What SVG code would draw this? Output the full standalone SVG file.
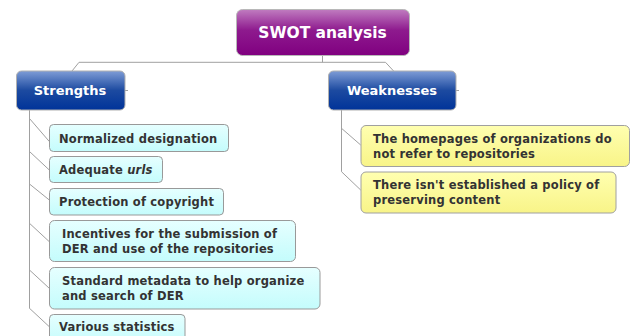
<svg xmlns="http://www.w3.org/2000/svg" width="630" height="336" viewBox="0 0 630 336">
<defs>
<linearGradient id="gRoot" x1="0" y1="0" x2="0" y2="1">
<stop offset="0" stop-color="#c07cc0"/><stop offset="0.45" stop-color="#8e1a8e"/><stop offset="1" stop-color="#800080"/>
</linearGradient>
<linearGradient id="gBlue" x1="0" y1="0" x2="0" y2="1">
<stop offset="0" stop-color="#7e9cd6"/><stop offset="0.5" stop-color="#1c4aa0"/><stop offset="1" stop-color="#003399"/>
</linearGradient>
<linearGradient id="gCyan" x1="0" y1="0" x2="0" y2="1">
<stop offset="0" stop-color="#e6ffff"/><stop offset="1" stop-color="#c4fcfc"/>
</linearGradient>
<linearGradient id="gYel" x1="0" y1="0" x2="0" y2="1">
<stop offset="0" stop-color="#ffffb0"/><stop offset="1" stop-color="#f8f488"/>
</linearGradient>
</defs>
<style>
.root{fill:url(#gRoot);stroke:#b8b8b8;stroke-width:1}
.main{fill:url(#gBlue);stroke:#b0b0b0;stroke-width:1}
.cyan{fill:url(#gCyan);stroke:#999;stroke-width:1}
.yel{fill:url(#gYel);stroke:#a0a0a0;stroke-width:1}
.tw{font-family:"DejaVu Sans",Verdana,sans-serif;font-weight:bold;fill:#fff}
.tc{font-family:"DejaVu Sans",Verdana,sans-serif;font-weight:bold;fill:#333;font-size:11.5px;letter-spacing:0.2px}
.ln{fill:none;stroke:#a0a0a0;stroke-width:1}
</style>
<g id="connectors">
<path class="ln" d="M322.5 55 V62.3 M79 62.3 H385.5 M79 62.3 L72 71 M385.5 62.3 L393.6 71"/>
<path class="ln" d="M125 90.5 H128 M456 90.5 H459"/>
<path class="ln" d="M29.5 110 V308.5"/>
<path class="ln" d="M29.5 118.5 L49.3 141.5 M29.5 151.5 L49.3 170 M29.5 184 L49.3 200 M29.5 223.3 L49.3 241.7 M29.5 270 L49.3 288.3 M29.5 308.3 L49.3 326.7"/>
<path class="ln" d="M341.5 110 V171.7 M341.5 128.3 L360.7 145 M341.5 171.7 L360.7 190"/>
</g>
<g id="root">
<rect class="root" x="236.5" y="9.5" width="173" height="46" rx="6"/>
<text class="tw" x="322.5" y="38" text-anchor="middle" font-size="15.5">SWOT analysis</text>
</g>
<g id="strengths">
<rect class="main" x="16.5" y="71" width="108.5" height="39" rx="5"/>
<text class="tw" x="70" y="95" text-anchor="middle" font-size="13">Strengths</text>
</g>
<g id="weaknesses">
<rect class="main" x="328.5" y="71" width="127.5" height="39" rx="5"/>
<text class="tw" x="392" y="95" text-anchor="middle" font-size="13">Weaknesses</text>
</g>
<g id="s1">
<rect class="cyan" x="49.5" y="124.5" width="179" height="27" rx="4"/>
<text class="tc" x="59" y="142.5">Normalized designation</text>
</g>
<g id="s2">
<rect class="cyan" x="49.5" y="156.5" width="113" height="26" rx="4"/>
<text class="tc" x="59" y="174">Adequate <tspan font-style="italic">urls</tspan></text>
</g>
<g id="s3">
<rect class="cyan" x="49.5" y="188.5" width="174" height="26.5" rx="4"/>
<text class="tc" x="59" y="206">Protection of copyright</text>
</g>
<g id="s4">
<rect class="cyan" x="49.5" y="220.5" width="246" height="41" rx="5"/>
<text class="tc" x="62" y="237.5">Incentives for the submission of</text>
<text class="tc" x="62" y="252.5">DER and use of the repositories</text>
</g>
<g id="s5">
<rect class="cyan" x="49.5" y="267.5" width="270.5" height="41.5" rx="5"/>
<text class="tc" x="62" y="284.5">Standard metadata to help organize</text>
<text class="tc" x="62" y="299.5">and search of DER</text>
</g>
<g id="s6">
<rect class="cyan" x="49.5" y="314.5" width="135.5" height="30" rx="4"/>
<text class="tc" x="59" y="331">Various statistics</text>
</g>
<g id="w1">
<rect class="yel" x="361" y="125.5" width="268.5" height="41" rx="5"/>
<text class="tc" x="373" y="142.5">The homepages of organizations do</text>
<text class="tc" x="373" y="157.5">not refer to repositories</text>
</g>
<g id="w2">
<rect class="yel" x="361" y="172" width="255" height="41" rx="5"/>
<text class="tc" x="373" y="189">There isn't established a policy of</text>
<text class="tc" x="373" y="204">preserving content</text>
</g>
</svg>
